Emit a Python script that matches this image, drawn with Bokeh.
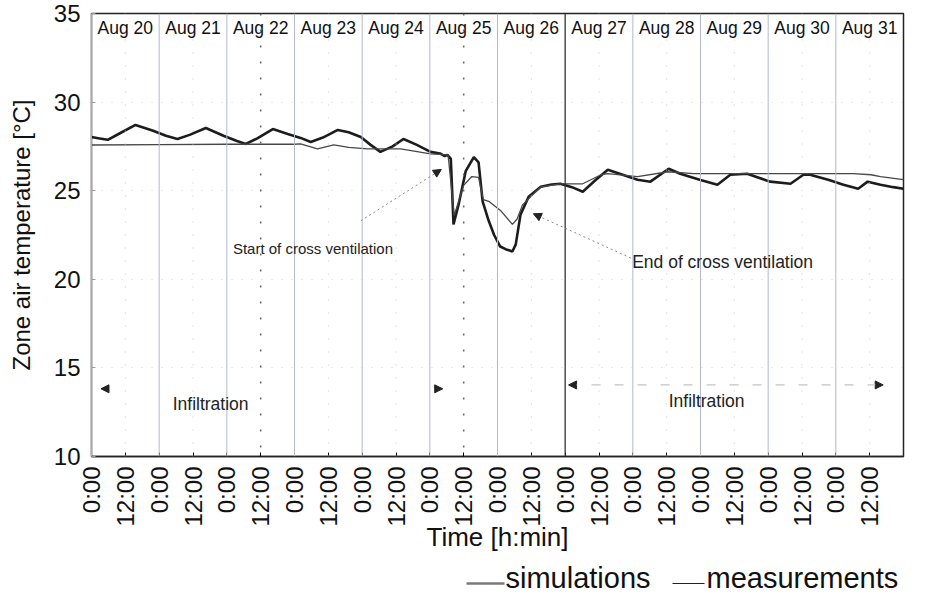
import numpy as np
from bokeh.plotting import figure
from bokeh.layouts import column
from bokeh.models import (FixedTicker, Label, Arrow, NormalHead, Span,
                          Range1d, ColumnDataSource)
from bokeh.core.properties import value
from bokeh.embed import file_html
from bokeh.resources import INLINE

FONT = "Liberation Sans"

# ---------------- data ----------------
day_labels = ["Aug 20", "Aug 21", "Aug 22", "Aug 23", "Aug 24", "Aug 25",
              "Aug 26", "Aug 27", "Aug 28", "Aug 29", "Aug 30", "Aug 31"]
tick_hours = [0, 12, 24, 36, 48, 60, 72, 84, 96, 108, 120, 132,
              144, 156, 168, 180, 192, 204, 216, 228, 240, 252, 264, 276]
tick_labels = ["0:00", "12:00"] * 12
y_ticks = [10, 15, 20, 25, 30, 35]
legend_labels = ["simulations", "measurements"]

# time in days since Aug 20 0:00
meas_day = [0.00, 0.12, 0.24, 0.40, 0.65, 0.90, 1.10, 1.27, 1.45, 1.69, 1.95, 2.15,
            2.28, 2.45, 2.68, 2.90, 3.09, 3.24, 3.42, 3.64, 3.80, 3.98, 4.12, 4.27,
            4.45, 4.61, 4.80, 5.01, 5.15, 5.22, 5.26, 5.31, 5.35, 5.43, 5.53, 5.65,
            5.72, 5.78, 5.87, 5.95, 6.04, 6.12, 6.22, 6.27, 6.34, 6.46, 6.64, 6.80,
            6.93, 7.10, 7.26, 7.45, 7.63, 7.85, 8.07, 8.26, 8.53, 8.70, 9.00, 9.25,
            9.44, 9.69, 9.85, 10.03, 10.33, 10.52, 10.62, 10.90, 11.10, 11.33, 11.47,
            11.66, 11.85, 12.00]
meas_val = [28.03, 27.95, 27.87, 28.20, 28.71, 28.40, 28.10, 27.92, 28.15, 28.54, 28.10, 27.80,
            27.64, 27.95, 28.48, 28.20, 27.98, 27.75, 28.00, 28.43, 28.30, 28.03, 27.60, 27.19,
            27.50, 27.92, 27.60, 27.19, 27.10, 26.95, 27.02, 26.80, 23.10, 24.30, 26.10, 26.90,
            26.60, 24.40, 23.30, 22.50, 21.85, 21.70, 21.57, 21.97, 23.65, 24.66, 25.22, 25.35,
            25.39, 25.20, 24.94, 25.60, 26.18, 25.90, 25.62, 25.51, 26.24, 25.96, 25.60, 25.34,
            25.90, 25.96, 25.75, 25.51, 25.39, 25.90, 25.90, 25.60, 25.35, 25.11, 25.51,
            25.34, 25.20, 25.11]

sim_day = [0.00, 1.00, 2.00, 3.00, 3.09, 3.34, 3.58, 3.80, 4.08, 4.57, 5.01, 5.27,
           5.36, 5.50, 5.62, 5.72, 5.79, 5.87, 6.04, 6.22, 6.29, 6.37, 6.46, 6.64,
           6.93, 7.26, 7.53, 7.63, 8.07, 8.52, 8.90, 10.00, 11.26, 11.52, 11.66, 12.00]
sim_val = [27.58, 27.60, 27.62, 27.62, 27.64, 27.36, 27.58, 27.45, 27.36, 27.36, 27.08, 27.02,
           23.60, 25.30, 25.80, 25.75, 24.50, 24.40, 23.90, 23.10, 23.40, 24.20, 24.55, 25.22,
           25.39, 25.39, 25.90, 25.96, 25.79, 26.07, 25.96, 25.96, 25.96, 25.90, 25.79, 25.62]

meas_h = np.array(meas_day) * 24
sim_h = np.array(sim_day) * 24

# ---------------- main figure ----------------
W = 936
p = figure(width=W, height=562, x_range=Range1d(0, 288), y_range=Range1d(10, 35),
           output_backend="svg", toolbar_location=None,
           min_border_left=91, min_border_right=33, min_border_top=13, min_border_bottom=106)
p.background_fill_color = "white"
p.border_fill_color = "white"
p.outline_line_color = "#222222"
p.outline_line_width = 1.5

p.xgrid.grid_line_color = None
p.ygrid.ticker = FixedTicker(ticks=y_ticks)
p.ygrid.grid_line_color = "#bbbbbb"
p.ygrid.grid_line_dash = "1 9"
p.ygrid.grid_line_alpha = 0.6

# vertical day / noon lines
for d in range(1, 12):
    if d == 7:
        p.add_layout(Span(location=24 * d, dimension="height", line_color="#333333", line_width=1.3))
    else:
        p.add_layout(Span(location=24 * d, dimension="height", line_color="#b4b8cc", line_width=1))
for d in range(12):
    if d in (2, 5):
        p.add_layout(Span(location=24 * d + 12, dimension="height", line_color="#666666",
                          line_width=1.5, line_dash="2 14"))
    else:
        p.add_layout(Span(location=24 * d + 12, dimension="height", line_color="#c8c8c8",
                          line_width=1, line_dash="1 12"))

# curves
p.line(meas_h, meas_val, line_color="#1c1c1c", line_width=2.6)
p.line(sim_h, sim_val, line_color="#474747", line_width=1.3)

# day labels on top
src_days = ColumnDataSource(dict(x=[24 * i + 12 for i in range(12)], y=[34.18] * 12, t=day_labels))
p.text(x="x", y="y", text="t", source=src_days, text_align="center", text_baseline="middle",
       text_font=value(FONT), text_font_size="17.5px", text_color="#111111")

# axes
p.xaxis.ticker = FixedTicker(ticks=tick_hours)
p.xaxis.major_label_overrides = dict(zip(tick_hours, tick_labels))
p.xaxis.major_label_orientation = np.pi / 2
p.xaxis.major_label_text_font = FONT
p.xaxis.major_label_text_font_size = "24px"
p.xaxis.major_label_text_color = "#111111"
p.xaxis.major_label_standoff = 10
p.xaxis.major_tick_in = 4
p.xaxis.major_tick_out = 0
p.xaxis.minor_tick_line_color = None
p.xaxis.axis_line_color = "#222222"
p.xaxis.axis_line_width = 1.5
p.xaxis.axis_label = "Time [h:min]"
p.xaxis.axis_label_text_font = FONT
p.xaxis.axis_label_text_font_size = "26px"
p.xaxis.axis_label_text_font_style = "normal"
p.xaxis.axis_label_text_color = "#111111"
p.xaxis.axis_label_standoff = -8

p.yaxis.ticker = FixedTicker(ticks=y_ticks)
p.yaxis.major_label_text_font = FONT
p.yaxis.major_label_text_font_size = "24px"
p.yaxis.major_label_text_color = "#111111"
p.yaxis.major_label_standoff = 11
p.yaxis.major_tick_in = 4
p.yaxis.major_tick_out = 0
p.yaxis.major_tick_line_color = "#999999"
p.yaxis.minor_tick_line_color = None
p.yaxis.axis_line_color = "#aaaaaa"
p.yaxis.axis_label = "Zone air temperature [°C]"
p.yaxis.axis_label_text_font = FONT
p.yaxis.axis_label_text_font_size = "24px"
p.yaxis.axis_label_text_font_style = "normal"
p.yaxis.axis_label_text_color = "#111111"
p.yaxis.axis_label_standoff = 16

# annotations
p.add_layout(Label(x=2.09 * 24, y=21.74, text="Start of cross ventilation", text_font=FONT,
                   text_font_size="15px", text_baseline="middle", text_color="#222222"))
p.add_layout(Label(x=7.99 * 24, y=20.97, text="End of cross ventilation", text_font=FONT,
                   text_font_size="17.5px", text_baseline="middle", text_color="#222222"))
p.add_layout(Label(x=1.20 * 24, y=12.98, text="Infiltration", text_font=FONT,
                   text_font_size="17.5px", text_baseline="middle", text_color="#222222"))
p.add_layout(Label(x=8.53 * 24, y=13.15, text="Infiltration", text_font=FONT,
                   text_font_size="17.5px", text_baseline="middle", text_color="#222222"))

head = dict(size=8, fill_color="#222222", line_color="#222222")
p.add_layout(Arrow(end=NormalHead(**head), x_start=3.98 * 24, y_start=23.3,
                   x_end=5.17 * 24, y_end=26.2, line_color="#888888", line_width=1, line_dash="2 3"))
p.add_layout(Arrow(end=NormalHead(**head), x_start=7.97 * 24, y_start=21.2,
                   x_end=6.53 * 24, y_end=23.7, line_color="#888888", line_width=1, line_dash="2 3"))
p.add_layout(Arrow(start=NormalHead(**head), end=NormalHead(**head), x_start=0.14 * 24, y_start=13.82,
                   x_end=5.19 * 24, y_end=13.82, line_alpha=0))
p.add_layout(Arrow(start=NormalHead(**head), end=NormalHead(**head), x_start=7.05 * 24, y_start=14.04,
                   x_end=11.70 * 24, y_end=14.04, line_color="#c4c4c4", line_width=1.2, line_dash="9 14"))

# ---------------- legend strip below (frame aligned with main frame; units = page px) ----------------
leg = figure(width=W, height=36, x_range=Range1d(91, 903), y_range=Range1d(0, 36),
             output_backend="svg", toolbar_location=None,
             x_axis_location=None, y_axis_location=None,
             min_border_left=91, min_border_right=33, min_border_top=0, min_border_bottom=0)
leg.grid.visible = False
leg.outline_line_color = None
leg.background_fill_color = "white"
leg.border_fill_color = "white"
leg.segment(x0=[466, 672], y0=[15, 15], x1=[504, 704], y1=[15, 15],
            line_color=["#7a7a7a", "#222222"], line_width=[2.5, 1.2])
leg.text(x=[505, 706], y=[21, 21], text=legend_labels, text_align="left",
         text_baseline="middle", text_font=value(FONT), text_font_size="29px",
         text_color="#111111")

layout = column(p, leg, spacing=0)
open("out.html", "w").write(file_html(layout, INLINE))
